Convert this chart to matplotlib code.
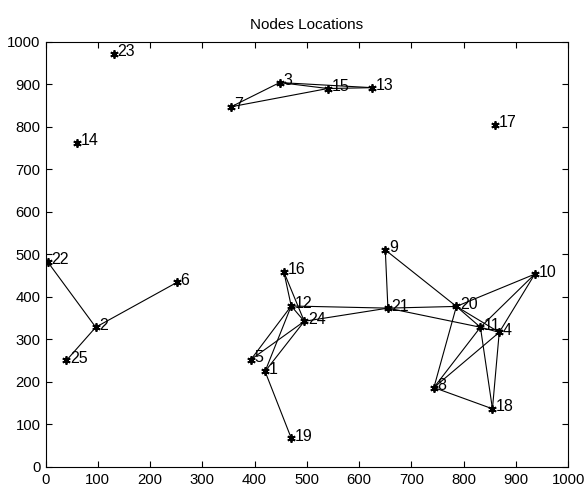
import numpy as np
import matplotlib.pyplot as plt

plt.rcParams['font.family'] = ['Liberation Sans Narrow', 'Liberation Sans', 'DejaVu Sans']

# node ids and positions
node_ids = [1, 2, 3, 4, 5, 6, 7, 8, 9, 10, 11, 12, 13,
            14, 15, 16, 17, 18, 19, 20, 21, 22, 23, 24, 25]
node_x = [420, 96, 448, 868, 393, 252, 355, 743, 650, 936, 832, 470, 625,
          60, 540, 456, 860, 855, 470, 786, 655, 4, 130, 495, 40]
node_y = [224, 328, 904, 316, 252, 434, 847, 186, 510, 453, 328, 378, 892,
          762, 890, 458, 805, 136, 67, 377, 373, 482, 972, 342, 250]

# links between nodes
edges = [(7, 3), (7, 15), (3, 15), (3, 13), (15, 13),
         (22, 2), (2, 6), (2, 25),
         (16, 12), (16, 24), (12, 24), (12, 5), (12, 1), (24, 5), (24, 1),
         (12, 21), (24, 21), (1, 19),
         (9, 21), (9, 20), (21, 20), (21, 11),
         (20, 10), (20, 11), (20, 4), (20, 8),
         (10, 11), (10, 4), (11, 4),
         (8, 11), (8, 4), (8, 18), (11, 18), (4, 18)]

pos = {n: (x, y) for n, x, y in zip(node_ids, node_x, node_y)}

fig = plt.figure(figsize=(5.84, 4.86), dpi=100)
ax = fig.add_axes([0.078, 0.040, 0.895, 0.874])

for a, b in edges:
    ax.plot([pos[a][0], pos[b][0]], [pos[a][1], pos[b][1]], color='black', lw=0.8)

# matlab style asterisk markers
ax.plot(node_x, node_y, linestyle='none', marker=(6, 2, 0), color='black',
        markersize=6, markeredgewidth=1.3)

for n, x, y in zip(node_ids, node_x, node_y):
    ax.annotate(str(n), (x, y), xytext=(2.5, 1.5), textcoords='offset points',
                ha='left', va='center', fontsize=11.5)

ax.set_xlim(0, 1000)
ax.set_ylim(0, 1000)
ax.set_xticks(np.arange(0, 1001, 100))
ax.set_yticks(np.arange(0, 1001, 100))
ax.tick_params(direction='in', top=True, right=True, labelsize=10.7, length=4.5)
ax.tick_params(axis='x', pad=4.5)
ax.tick_params(axis='y', pad=3.5)
ax.set_title('Nodes Locations', fontsize=11, pad=9)

fig.savefig('out.png', dpi=100)
